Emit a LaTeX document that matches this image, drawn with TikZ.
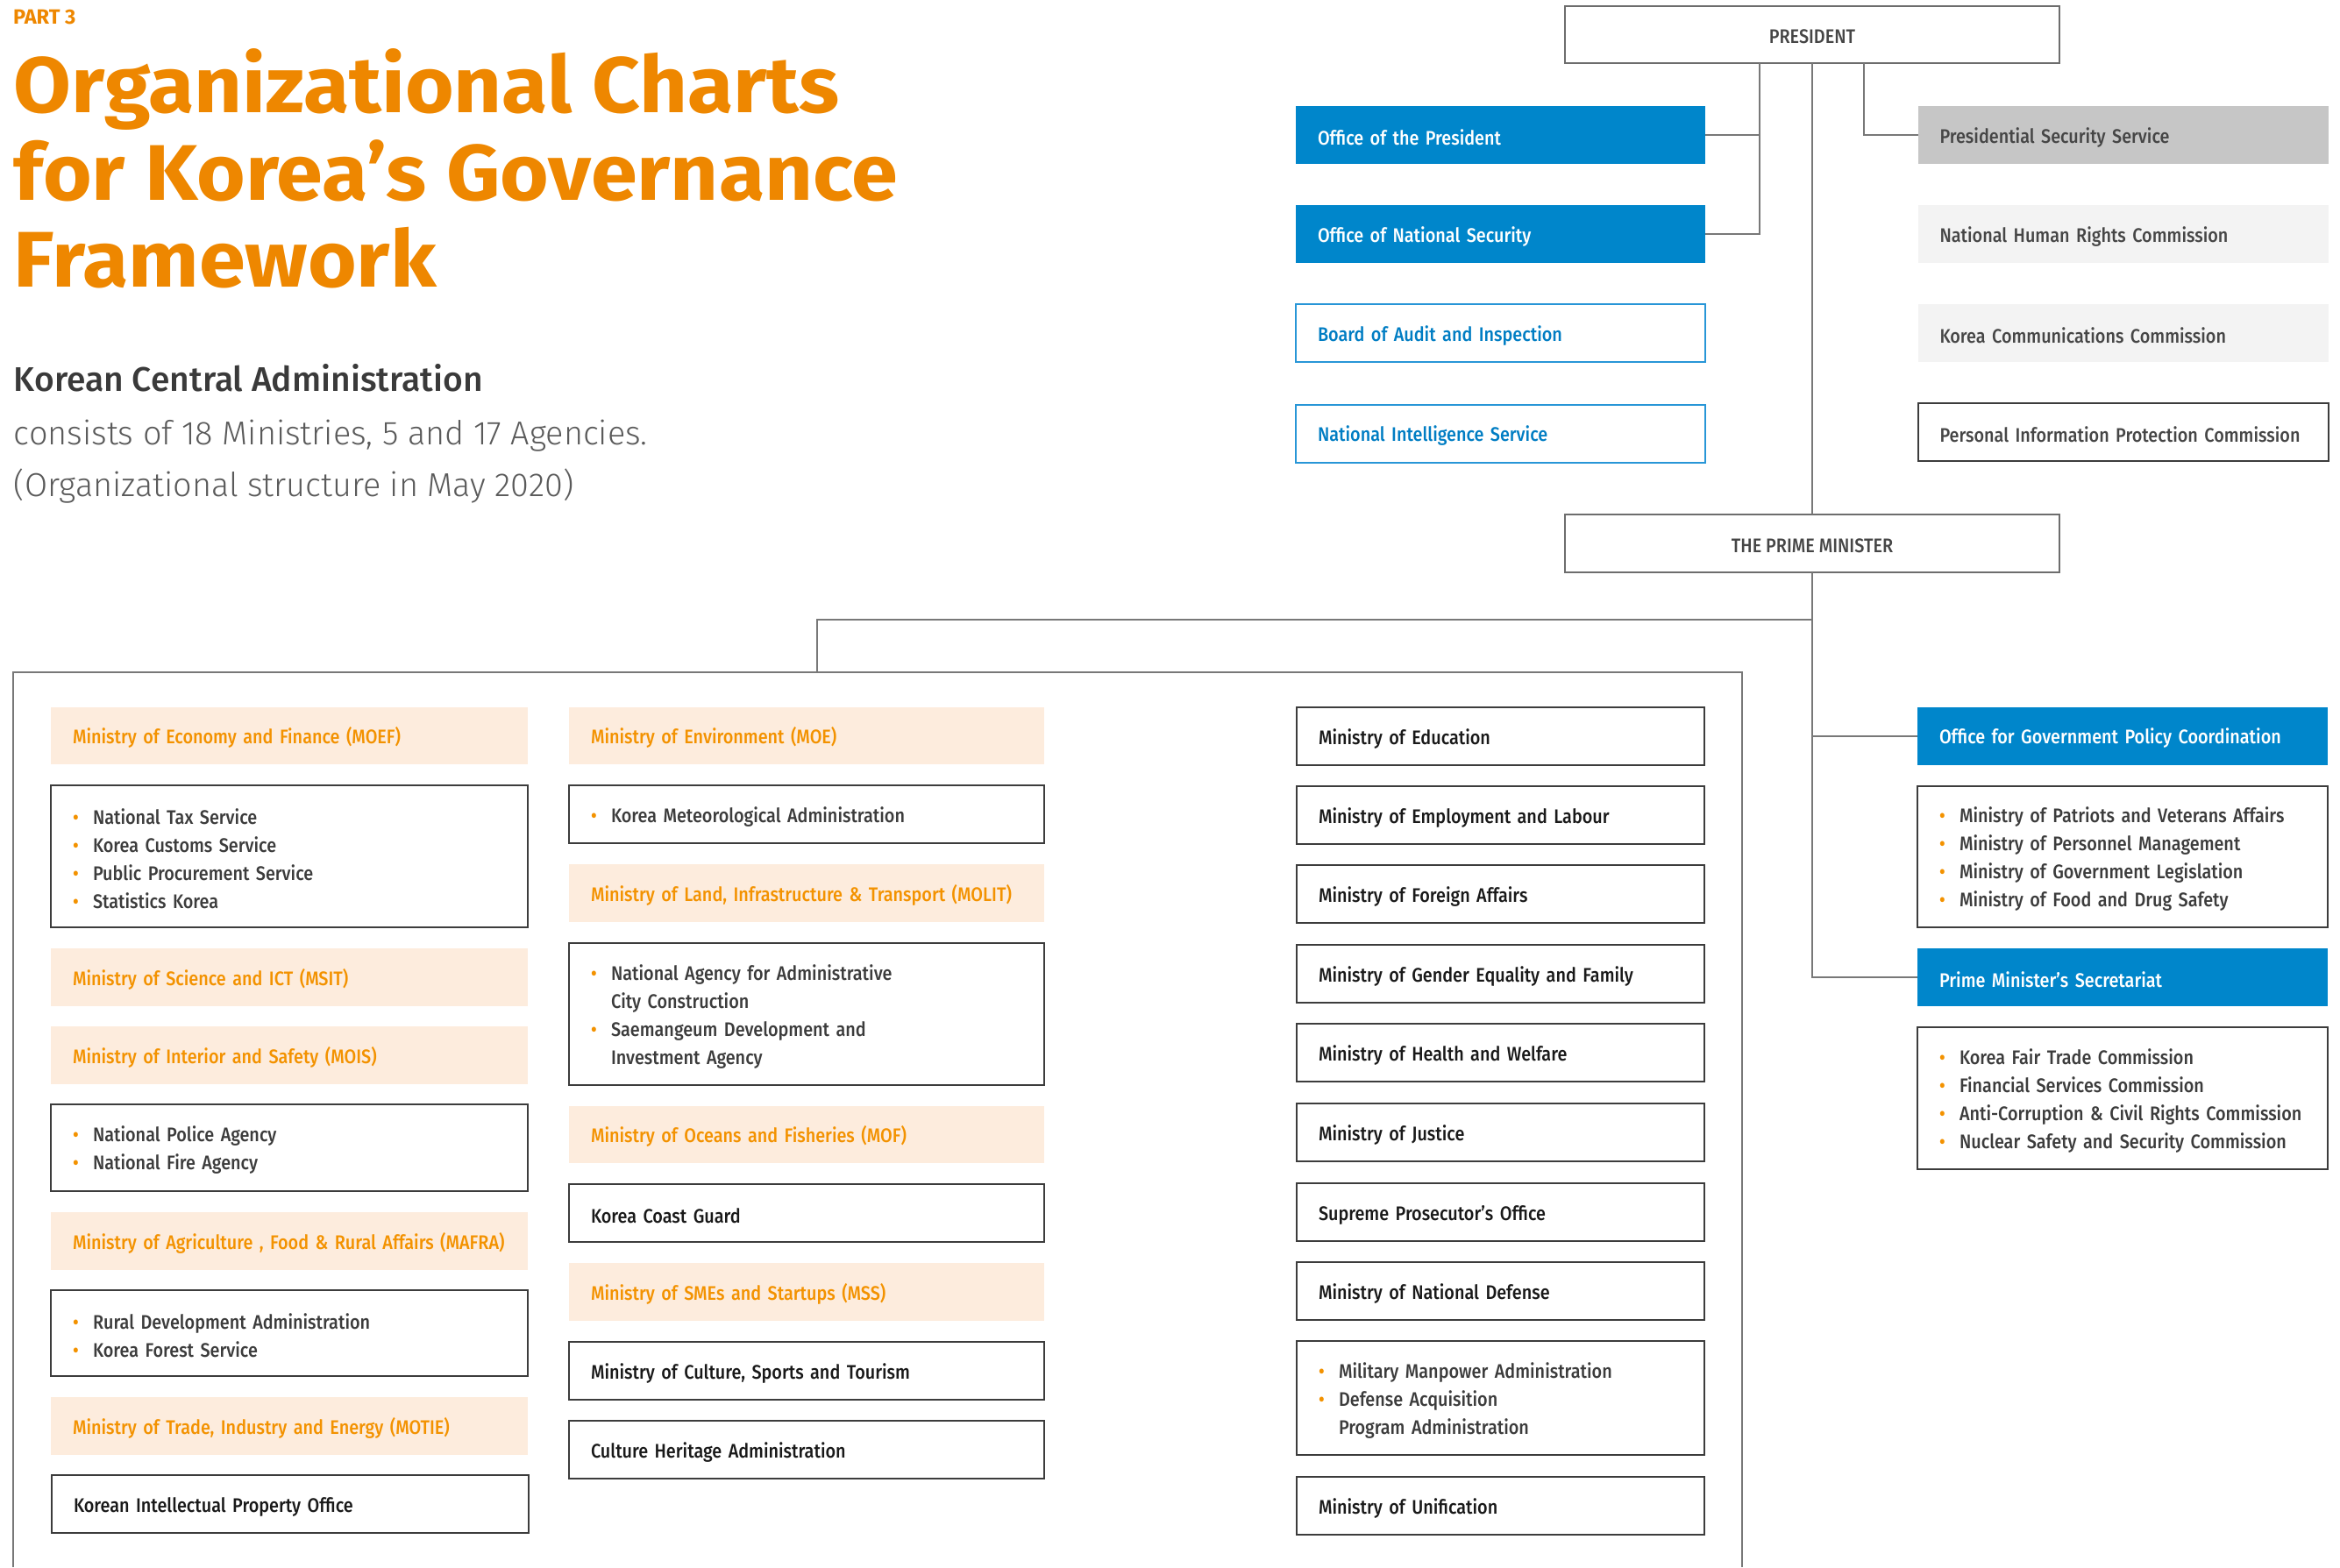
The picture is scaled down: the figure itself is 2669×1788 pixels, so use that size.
\documentclass[tikz,border=0pt]{standalone}
\usepackage{fontspec}
\setmainfont{Fira Sans}
\newfontfamily\bxf{Fira Sans Medium}[FakeStretch=0.885]
\newfontfamily\medf{Fira Sans Medium}
\newfontfamily\ltf{Fira Sans Light}
\newfontfamily\ttlf{Fira Sans}[FakeStretch=1.06]
\setlength\parindent{0pt}
\hyphenpenalty=10000
\exhyphenpenalty=10000
\definecolor{ttlor}{RGB}{238,135,0}
\definecolor{hdror}{RGB}{243,146,0}
\definecolor{hdrfill}{RGB}{253,236,221}
\definecolor{mblue}{RGB}{0,134,203}
\definecolor{bborder}{RGB}{40,150,215}
\definecolor{btext}{RGB}{0,125,195}
\definecolor{gfill}{RGB}{198,198,198}
\definecolor{lfill}{RGB}{243,243,243}
\definecolor{boxline}{RGB}{60,60,60}
\definecolor{conn}{RGB}{120,120,120}
\definecolor{subgray}{RGB}{60,60,60}
\definecolor{topgray}{RGB}{70,70,70}
\definecolor{headgray}{RGB}{58,58,58}
\definecolor{lightgray2}{RGB}{90,90,90}
\newcommand\bul{\makebox[11.5pt][l]{\textcolor{hdror}{\textbullet}}}
\newcommand\nob{\hspace*{11.5pt}}
\tikzset{
  base/.style={inner ysep=0pt, inner xsep=12.5pt, outer sep=0pt, align=left,
    font=\bxf\fontsize{11.2}{16}\selectfont,
    execute at begin node={\rule{0pt}{11.8pt}}},
  multi/.style={execute at begin node={\rule{0pt}{9.8pt}}},
  tops/.style={execute at begin node={\rule{0pt}{10.6pt}}},
  colL/.style={text width=247pt},
  colS/.style={text width=246pt},
  colM/.style={text width=207.5pt},
  colR/.style={text width=209pt},
  colT/.style={text width=208.5pt},
  hdr/.style={base, fill=hdrfill, text=hdror, minimum height=32.5pt},
  wbox/.style={base, draw=boxline, line width=1pt, fill=white, text=black!90, minimum height=33pt},
  subbox/.style={base, draw=boxline, line width=1pt, fill=white, text=subgray},
  bluebox/.style={base, tops, fill=mblue, text=white, minimum height=33pt},
  blueline/.style={base, tops, draw=bborder, line width=1pt, text=btext, minimum height=33pt},
  graybox/.style={base, tops, fill=gfill, text=topgray, minimum height=33pt},
  lgraybox/.style={base, tops, fill=lfill, text=topgray, minimum height=33pt},
  topbox/.style={draw=boxline!75, line width=1pt, inner sep=0pt, outer sep=0pt,
    minimum width=282pt, minimum height=32.5pt, text=topgray,
    font=\bxf\fontsize{11.2}{16}\selectfont,
    execute at begin node={\rule{0pt}{10.6pt}}},
  connector/.style={draw=conn, line width=1pt},
  free/.style={anchor=base west, inner sep=0pt, outer sep=0pt}
}
\begin{document}
\begin{tikzpicture}[x=0.5pt, y=-0.5pt]
\useasboundingbox (0,0) rectangle (2669,1788);

% ---- heading texts ----
\node[free, text=ttlor, font=\bfseries\fontsize{11.8}{13}\selectfont] (part) at (15,27.5) {PART 3};
\node[free, text=ttlor, font=\ttlf\bfseries\fontsize{45}{50}\selectfont] (t1) at (16,128) {Organizational Charts};
\node[free, text=ttlor, font=\ttlf\bfseries\fontsize{45}{50}\selectfont] (t2) at (16,228) {for Korea’s Governance};
\node[free, text=ttlor, font=\ttlf\bfseries\fontsize{45}{50}\selectfont] (t3) at (16,327) {Framework};
\node[free, text=headgray, font=\medf\fontsize{19.5}{22}\selectfont] (s1) at (16,446) {Korean Central Administration};
\node[free, text=lightgray2, font=\ltf\fontsize{18.9}{22}\selectfont] (s2) at (16,507) {consists of 18 Ministries, 5 and 17 Agencies.};
\node[free, text=lightgray2, font=\ltf\fontsize{18.9}{22}\selectfont] (s3) at (16,566) {(Organizational structure in May 2020)};

% ---- top part ----
\node[topbox] (pres) at (2067,39.5) {PRESIDENT};
\node[topbox, minimum height=33pt] (pm) at (2067,620) {THE PRIME MINISTER};

\node[bluebox, colT] (oop) at (1711.5,154) {Office of the President};
\node[bluebox, colT] (ons) at (1711.5,267) {Office of National Security};
\node[blueline, colT] (bai) at (1711.5,380) {Board of Audit and Inspection};
\node[blueline, colT] (nis) at (1711.5,494.5) {National Intelligence Service};

\node[graybox, colR] (pss) at (2421.5,154) {Presidential Security Service};
\node[lgraybox, colR] (nhrc) at (2421.5,267) {National Human Rights Commission};
\node[lgraybox, colR] (kcc) at (2421.5,380) {Korea Communications Commission};
\node[wbox, tops, colR, text=topgray] (pipc) at (2421.5,493) {Personal Information Protection Commission};

\coordinate (lbx) at (2007,0);
\coordinate (rbx) at (2126,0);
\draw[connector] (pres.south) -- (pm.north);
\draw[connector] (oop.east) -| (lbx |- pres.south);
\draw[connector] (ons.east) -| (lbx |- pres.south);
\draw[connector] (pss.west) -| (rbx |- pres.south);

% ---- right column under the Prime Minister ----
\node[bluebox, colR] (opc) at (2421,839.5) {Office for Government Policy Coordination};
\node[subbox, multi, colR, minimum height=80.5pt] (opcsub) at (2421,977.5) {\bul Ministry of Patriots and Veterans Affairs\\\bul Ministry of Personnel Management\\\bul Ministry of Government Legislation\\\bul Ministry of Food and Drug Safety};
\node[bluebox, colR] (psec) at (2421,1114.5) {Prime Minister’s Secretariat};
\node[subbox, multi, colR, minimum height=81pt] (psecsub) at (2421,1253) {\bul Korea Fair Trade Commission\\\bul Financial Services Commission\\\bul Anti-Corruption \& Civil Rights Commission\\\bul Nuclear Safety and Security Commission};

\coordinate (cj) at (932,707);
\coordinate (ct) at (932,767);
\draw[connector] (pm.south) -- (pm.south |- psec.west) -- (psec.west);
\draw[connector] (pm.south |- opc.west) -- (opc.west);
\draw[connector] (pm.south |- cj) -- (cj) -- (ct);

% ---- container ----
\draw[draw=conn, line width=1pt] (15,1788) -- (15,767) -- (1987,767) -- (1987,1788);

% ---- left column ----
\node[hdr, colL] (moef) at (330,839.5) {Ministry of Economy and Finance (MOEF)};
\node[subbox, multi, colL, minimum height=81pt] (moefsub) at (330,977) {\bul National Tax Service\\\bul Korea Customs Service\\\bul Public Procurement Service\\\bul Statistics Korea};
\node[hdr, colL, minimum height=33pt] (msit) at (330,1115) {Ministry of Science and ICT (MSIT)};
\node[hdr, colL, minimum height=33pt] (mois) at (330,1204) {Ministry of Interior and Safety (MOIS)};
\node[subbox, multi, colL, minimum height=49.5pt] (moissub) at (330,1309.5) {\bul National Police Agency\\\bul National Fire Agency};
\node[hdr, colL, minimum height=33pt] (mafra) at (330,1416) {Ministry of Agriculture , Food \& Rural Affairs (MAFRA)};
\node[subbox, multi, colL, minimum height=49pt] (mafrasub) at (330,1521) {\bul Rural Development Administration\\\bul Korea Forest Service};
\node[hdr, colL, minimum height=33pt] (motie) at (330,1627) {Ministry of Trade, Industry and Energy (MOTIE)};
\node[wbox, colL] (kipo) at (331,1716) {Korean Intellectual Property Office};

% ---- second column ----
\node[hdr, colS] (moe) at (920,839.5) {Ministry of Environment (MOE)};
\node[subbox, colS, minimum height=33pt] (kmasub) at (920,929) {\bul Korea Meteorological Administration};
\node[hdr, colS, minimum height=33pt] (molit) at (920,1019) {Ministry of Land, Infrastructure \& Transport (MOLIT)};
\node[subbox, multi, colS, minimum height=81pt] (molitsub) at (920,1157) {\bul National Agency for Administrative\\\nob City Construction\\\bul Saemangeum Development and\\\nob Investment Agency};
\node[hdr, colS] (mof) at (920,1294.5) {Ministry of Oceans and Fisheries (MOF)};
\node[wbox, colS] (kcg) at (920,1384) {Korea Coast Guard};
\node[hdr, colS, minimum height=33pt] (mss) at (920,1474) {Ministry of SMEs and Startups (MSS)};
\node[wbox, colS] (mcst) at (920,1564) {Ministry of Culture, Sports and Tourism};
\node[wbox, colS] (cha) at (920,1654) {Culture Heritage Administration};

% ---- middle column ----
\node[wbox, colM] (edu) at (1711.5,840) {Ministry of Education};
\node[wbox, colM] (emp) at (1711.5,930) {Ministry of Employment and Labour};
\node[wbox, colM] (mofa) at (1711.5,1020) {Ministry of Foreign Affairs};
\node[wbox, colM] (mogef) at (1711.5,1111) {Ministry of Gender Equality and Family};
\node[wbox, colM] (mohw) at (1711.5,1201) {Ministry of Health and Welfare};
\node[wbox, colM] (moj) at (1711.5,1292) {Ministry of Justice};
\node[wbox, colM] (spo) at (1711.5,1383) {Supreme Prosecutor’s Office};
\node[wbox, colM] (mnd) at (1711.5,1473) {Ministry of National Defense};
\node[subbox, multi, colM, minimum height=65pt] (milsub) at (1711.5,1595) {\bul Military Manpower Administration\\\bul Defense Acquisition\\\nob Program Administration};
\node[wbox, colM] (mou) at (1711.5,1718) {Ministry of Unification};
\end{tikzpicture}
\end{document}
